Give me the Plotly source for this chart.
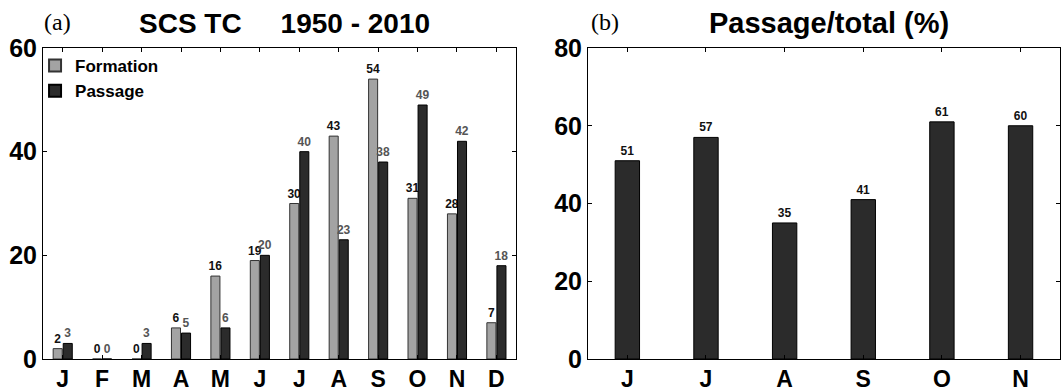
import plotly.graph_objects as go
from plotly.subplots import make_subplots

months = ["Jan", "Feb", "Mar", "Apr", "May", "Jun", "Jul", "Aug", "Sep", "Oct", "Nov", "Dec"]
month_letters = ["J", "F", "M", "A", "M", "J", "J", "A", "S", "O", "N", "D"]
formation = [2, 0, 0, 6, 16, 19, 30, 43, 54, 31, 28, 7]
passage = [3, 0, 3, 5, 6, 20, 40, 23, 38, 49, 42, 18]

months_b = ["Jun", "Jul", "Aug", "Sep", "Oct", "Nov"]
letters_b = ["J", "J", "A", "S", "O", "N"]
ratio = [51, 57, 35, 41, 61, 60]

FONT = "Liberation Sans, Arial, sans-serif"
SERIF = "Liberation Serif, Times New Roman, serif"

fig = make_subplots(rows=1, cols=2)

fig.add_trace(go.Bar(
    x=months, y=formation, name="Formation",
    marker=dict(color="#a3a3a3", line=dict(color="#333333", width=1)),
    text=[str(v) for v in formation], textposition="outside",
    textfont=dict(family=FONT, size=12, color="#111111", weight="bold"),
    constraintext="none", cliponaxis=False,
), row=1, col=1)
fig.add_trace(go.Bar(
    x=months, y=passage, name="Passage",
    marker=dict(color="#2b2b2b", line=dict(color="#000000", width=1)),
    text=[str(v) for v in passage], textposition="outside",
    textfont=dict(family=FONT, size=12, color="#555555", weight="bold"),
    constraintext="none", cliponaxis=False,
), row=1, col=1)

fig.add_trace(go.Bar(
    x=months_b, y=ratio, name="Passage/total", showlegend=False,
    width=0.31,
    marker=dict(color="#2b2b2b", line=dict(color="#000000", width=1)),
    text=[str(v) for v in ratio], textposition="outside",
    textfont=dict(family=FONT, size=12, color="#111111", weight="bold"),
    constraintext="none", cliponaxis=False,
), row=1, col=2)

axis_common = dict(
    showline=True, linecolor="black", linewidth=1, mirror="ticks",
    ticks="inside", ticklen=4, tickcolor="black", showgrid=False, zeroline=False,
    automargin=False,
)

fig.update_xaxes(domain=[0.0405, 0.486], tickmode="array", tickvals=months, ticktext=month_letters,
                 range=[-0.5, 11.5], ticklabelstandoff=-1,
                 tickfont=dict(family=FONT, size=23, color="black", weight="bold"),
                 **axis_common, row=1, col=1)
fig.update_xaxes(domain=[0.5537, 0.998], tickmode="array", tickvals=months_b, ticktext=letters_b,
                 range=[-0.5, 5.5], ticklabelstandoff=-1,
                 tickfont=dict(family=FONT, size=23, color="black", weight="bold"),
                 **axis_common, row=1, col=2)
fig.update_yaxes(range=[0, 60], tickvals=[0, 20, 40, 60], ticklabelstandoff=0,
                 tickfont=dict(family=FONT, size=25, color="black", weight="bold"),
                 **axis_common, row=1, col=1)
fig.update_yaxes(range=[0, 80], tickvals=[0, 20, 40, 60, 80], ticklabelstandoff=0,
                 tickfont=dict(family=FONT, size=25, color="black", weight="bold"),
                 **axis_common, row=1, col=2)

NB = "\u00a0"
fig.update_layout(
    template="none",
    width=1062, height=391,
    margin=dict(l=0, r=0, t=48, b=32, pad=0),
    paper_bgcolor="white", plot_bgcolor="white",
    barmode="group", bargap=0.49, bargroupgap=0.1,
    showlegend=True,
    legend=dict(x=0.033, y=1.0, xanchor="left", yanchor="top",
                bgcolor="rgba(0,0,0,0)", tracegroupgap=0, borderwidth=0,
                font=dict(family=FONT, size=17, color="black", weight="bold"),
                itemsizing="constant"),
    annotations=[
        dict(text="SCS TC" + NB * 5 + "1950 - 2010", xref="paper", yref="paper", x=0.2675, y=1.0,
             yshift=25, xanchor="center", yanchor="middle", showarrow=False,
             font=dict(family=FONT, size=28, color="black", weight="bold")),
        dict(text="(a)", xref="paper", yref="paper", x=0.0395, y=1.0, yshift=26,
             xanchor="left", yanchor="middle", showarrow=False,
             font=dict(family=SERIF, size=24, color="black")),
        dict(text="Passage/total (%)", xref="paper", yref="paper", x=0.7806, y=1.0,
             yshift=25, xanchor="center", yanchor="middle", showarrow=False,
             font=dict(family=FONT, size=29, color="black", weight="bold")),
        dict(text="(b)", xref="paper", yref="paper", x=0.5545, y=1.0, yshift=26,
             xanchor="left", yanchor="middle", showarrow=False,
             font=dict(family=SERIF, size=24, color="black")),
    ],
)

fig.write_html("out.html", config={"displayModeBar": False},
               post_script="document.body.style.margin='0';document.body.style.padding='0';")
